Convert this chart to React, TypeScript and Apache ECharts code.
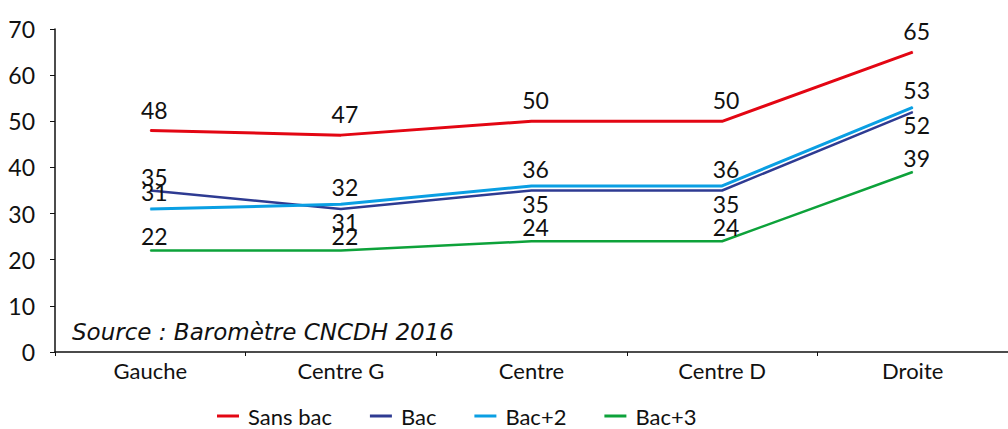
import React, { useEffect, useRef } from "react";
import * as echarts from "echarts";

const categories = ["Gauche", "Centre G", "Centre", "Centre D", "Droite"];
const sansBac = [48, 47, 50, 50, 65];
const bac = [35, 31, 35, 35, 52];
const bacPlus2 = [31, 32, 36, 36, 53];
const bacPlus3 = [22, 22, 24, 24, 39];
const yTicks = { min: 0, max: 70, interval: 10 };
const sourceText = "Source : Baromètre CNCDH 2016";

const FONT = "Lato, 'Liberation Sans Narrow', sans-serif";

export default function App() {
  const ref = useRef<HTMLDivElement>(null);
  useEffect(() => {
    if (!ref.current) return;
    const chart = echarts.init(ref.current, undefined, { renderer: "svg" });
    const label = (position: string, distance: number) => ({
      show: true,
      position,
      distance,
      offset: [4, 0],
      color: "#111",
      fontSize: 23,
      fontFamily: FONT,
    });
    const mk = (name: string, data: any[], color: string, width: number, lab: any) => ({
      name,
      type: "line",
      data,
      symbol: "circle",
      symbolSize: 1,
      showSymbol: true,
      lineStyle: { color, width },
      itemStyle: { color },
      label: lab,
    });
    const bacData = bac.map((v, i) => ({
      value: v,
      label: i === 0 ? label("top", 2) : label("bottom", 1),
    }));
    chart.setOption({
      animation: false,
      grid: { left: 55, right: -6, top: 29, bottom: 77, containLabel: false },
      legend: {
        left: 212,
        top: 400,
        itemWidth: 22,
        itemHeight: 3,
        itemGap: 38,
        icon: "rect",
        textStyle: { fontSize: 22, fontFamily: FONT, color: "#111", padding: [0, 0, 0, 4] },
        data: ["Sans bac", "Bac", "Bac+2", "Bac+3"],
      },
      xAxis: {
        type: "category",
        data: categories,
        boundaryGap: true,
        axisLine: { lineStyle: { color: "#111", width: 1.5 } },
        axisTick: { show: true, length: 4, lineStyle: { color: "#111" } },
        axisLabel: { fontSize: 22, fontFamily: FONT, color: "#111", margin: 7 },
        splitLine: { show: false },
      },
      yAxis: {
        type: "value",
        min: yTicks.min,
        max: yTicks.max,
        interval: yTicks.interval,
        axisLine: { show: true, lineStyle: { color: "#111", width: 1.5 } },
        axisTick: { show: true, length: 5, lineStyle: { color: "#111" } },
        axisLabel: { fontSize: 23, fontFamily: FONT, color: "#111", margin: 20 },
        splitLine: { show: false },
      },
      graphic: [
        {
          type: "text",
          left: 72,
          top: 320,
          style: {
            text: sourceText,
            fontSize: 23,
            fontStyle: "italic",
            fontFamily: "'DejaVu Sans', sans-serif",
            fill: "#111",
          },
        },
      ],
      series: [
        mk("Sans bac", sansBac, "#E30613", 3, label("top", 9)),
        mk("Bac", bacData, "#2E3B92", 2.5, label("bottom", 1)),
        mk("Bac+2", bacPlus2, "#0A9FE3", 3, label("top", 5)),
        mk("Bac+3", bacPlus3, "#0DA23A", 2.5, label("top", 2)),
      ],
    });
    return () => chart.dispose();
  }, []);
  return <div ref={ref} style={{ width: 1008, height: 429, position: "absolute", left: 0, top: 0 }} />;
}
